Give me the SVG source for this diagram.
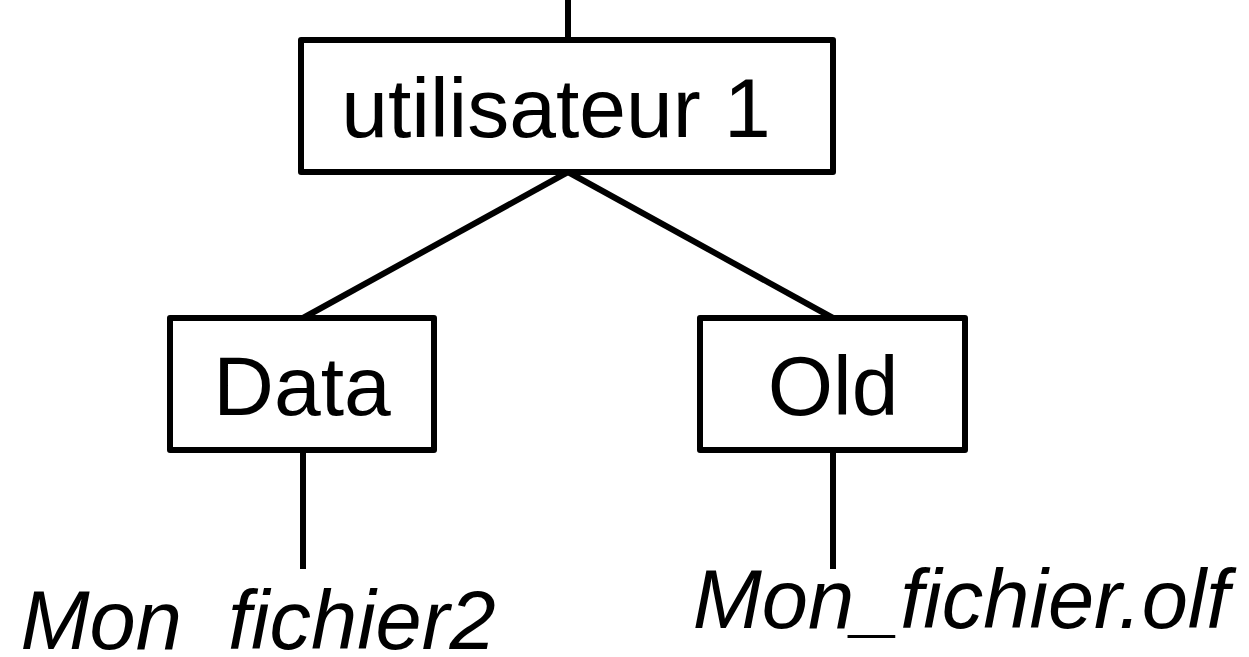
<svg xmlns="http://www.w3.org/2000/svg" width="1249" height="657" viewBox="0 0 1249 657">
  <style>
    .box { fill: #ffffff; stroke: #000000; stroke-width: 6; stroke-linejoin: round; }
    .link { fill: none; stroke: #000000; stroke-width: 6; }
    .label { font-family: "Liberation Sans", Arial, sans-serif; font-size: 84px; fill: #000000; text-anchor: middle; }
    .file { font-family: "Liberation Sans", Arial, sans-serif; font-size: 83px; font-style: italic; fill: #000000; text-anchor: middle; white-space: pre; }
  </style>
  <rect width="1249" height="657" fill="#ffffff"/>

  <g id="connectors">
    <line class="link" x1="568" y1="0" x2="568" y2="40"/>
    <line class="link" x1="568" y1="172" x2="303" y2="318"/>
    <line class="link" x1="568" y1="172" x2="833" y2="318"/>
    <line class="link" x1="303" y1="450" x2="303" y2="569"/>
    <line class="link" x1="833" y1="450" x2="833" y2="569"/>
  </g>

  <g id="user1">
    <rect class="box" x="301" y="40" width="532" height="132"/>
    <text class="label" x="556" y="137">utilisateur 1</text>
  </g>

  <g id="data">
    <rect class="box" x="170" y="318" width="264" height="132"/>
    <text class="label" x="302" y="415">Data</text>
  </g>

  <g id="old">
    <rect class="box" x="700" y="318" width="265" height="132"/>
    <text class="label" x="833" y="415">Old</text>
  </g>

  <g id="file-data">
    <text class="file" x="258" y="649" xml:space="preserve">Mon  fichier2</text>
  </g>

  <g id="file-old">
    <text class="file" x="961" y="628">Mon_fichier.olf</text>
  </g>
</svg>
